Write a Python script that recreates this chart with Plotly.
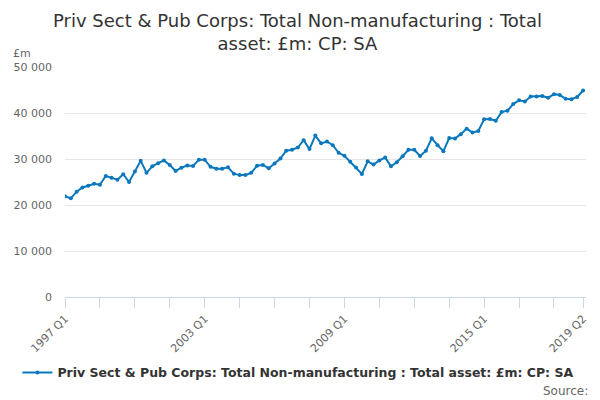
import plotly.graph_objects as go

# Trimestres 1997 Q1 .. 2019 Q2
quarters = [f"{y} Q{q}" for y in range(1997, 2020) for q in range(1, 5)][:90]

# Valores (£m)
total_assets = [
    21900, 21450, 22900, 23800, 24200, 24600, 24400, 26300, 25900, 25500,
    26700, 25000, 27300, 29600, 27000, 28400, 29100, 29700, 28700, 27400,
    28100, 28600, 28500, 29850, 29850, 28300, 27900, 27900, 28200, 26800,
    26500, 26500, 27000, 28550, 28700, 28000, 29000, 30100, 31800, 32000,
    32500, 34100, 32150, 35100, 33400, 33800, 33000, 31350, 30700, 29400,
    28150, 26750, 29500, 28800, 29700, 30300, 28400, 29300, 30600, 32000,
    32000, 30650, 31800, 34500, 33000, 31700, 34550, 34450, 35400, 36600,
    35750, 36100, 38650, 38700, 38300, 40200, 40500, 41950, 42750, 42500,
    43600, 43600, 43700, 43300, 44100, 43900, 43100, 43000, 43500, 44900,
]

tick_idx = list(range(0, 90, 6)) + [89]
label_idx = [0, 24, 48, 72, 89]
tick_vals = [quarters[i] for i in tick_idx]
tick_text = [quarters[i] if i in label_idx else "" for i in tick_idx]

y_ticks = [0, 10000, 20000, 30000, 40000, 50000]

series_name = "Priv Sect & Pub Corps: Total Non-manufacturing : Total asset: £m: CP: SA"
title_text = "Priv Sect & Pub Corps: Total Non-manufacturing : Total<br>asset: £m: CP: SA"
line_color = "#0b78be"

fig = go.Figure()
fig.add_trace(go.Scatter(
    x=quarters,
    y=total_assets,
    mode='lines+markers',
    name=series_name,
    line=dict(color=line_color, width=2),
    marker=dict(color=line_color, size=4),
))

# la página html deja 8px de margen: la figura es 592x392
fig.update_layout(
    width=592,
    height=392,
    margin=dict(l=57, r=14, t=59, b=95),
    paper_bgcolor='white',
    plot_bgcolor='white',
    separators='. ',
    font=dict(family='DejaVu Sans', color='#666666', size=11),
    showlegend=True,
    legend=dict(
        orientation='h',
        x=0.448, xanchor='center',
        y=-0.33, yanchor='middle',
        font=dict(size=12.5, color='#333333', family='DejaVu Sans', weight='bold'),
        itemwidth=30,
    ),
    annotations=[
        dict(text=title_text, xref='paper', yref='paper', x=0.446, y=1.255,
             xanchor='center', yanchor='top', showarrow=False,
             font=dict(size=18, color='#333333', family='DejaVu Sans')),
        dict(text="£m", xref='paper', yref='paper', x=-0.104, y=1.057,
             xanchor='left', yanchor='middle', showarrow=False,
             font=dict(size=11, color='#666666')),
        dict(text="Source:", xref='paper', yref='paper', x=1.008, y=-0.41,
             xanchor='right', yanchor='middle', showarrow=False,
             font=dict(size=12, color='#666666')),
    ],
)

fig.update_xaxes(
    type='category',
    range=[0, 89.5],
    tickvals=tick_vals,
    ticktext=tick_text,
    tickangle=-45,
    ticks='outside',
    ticklen=10,
    tickcolor='#ccd6eb',
    showgrid=False,
    showline=True,
    linecolor='#ccd6eb',
    linewidth=1,
    automargin=False,
)
fig.update_yaxes(
    range=[0, 50000],
    tickvals=y_ticks,
    tickformat=',',
    ticklabelstandoff=12,
    showgrid=True,
    gridcolor='#e6e6e6',
    zeroline=False,
    showline=False,
    ticks='',
    automargin=False,
)

fig.write_html("out.html")
